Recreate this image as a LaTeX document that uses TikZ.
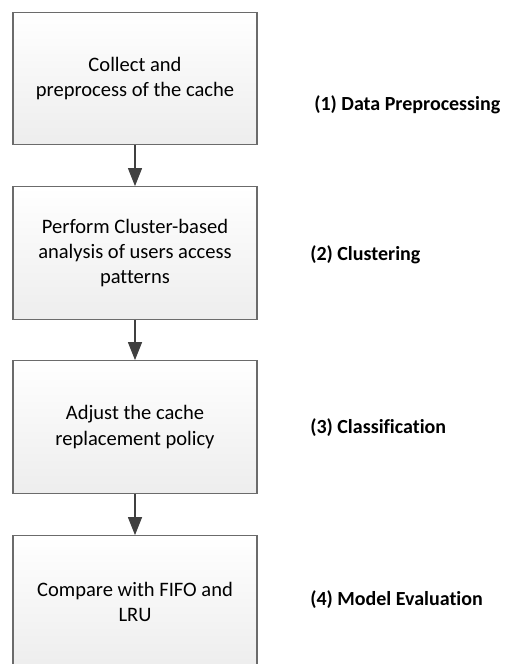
\documentclass[tikz,border=0pt]{standalone}
\usepackage{fontspec}
\setmainfont{Carlito}[Ligatures=CommonOff]
\usetikzlibrary{arrows.meta}
\begin{document}
\begin{tikzpicture}[x=0.75pt,y=-0.75pt,
    stepbox/.style={draw=black!58,line width=0.8pt,top color=white,bottom color=black!7,
      minimum width=183pt,minimum height=99.5pt,align=center,
      font=\fontsize{15.4}{19}\selectfont,inner sep=0pt},
    phase/.style={anchor=west,font=\fontsize{15}{18}\selectfont\bfseries,inner sep=0pt},
    flow/.style={draw=black!75,line width=0.8pt,-{Triangle[length=13.5pt,width=10.5pt]}}]
      \clip (0,0) rectangle (508,664);
      \fill[white] (0,0) rectangle (508,664);
      \draw
        (135,78.5) node[stepbox] (s1){Collect and\\preprocess of the cache}
        (135,253) node[stepbox] (s2){Perform Cluster-based\\analysis of users access\\patterns}
        (135,427) node[stepbox] (s3){Adjust the cache\\replacement policy}
        (135,602) node[stepbox] (s4){Compare with FIFO and\\LRU};
      \draw
        (314,105) node[phase] (p1){(1) Data Preprocessing}
        (310,255) node[phase] (p2){(2) Clustering}
        (310,428) node[phase] (p3){(3) Classification}
        (310,600) node[phase] (p4){(4) Model Evaluation};
      \begin{scope}[flow]
        \draw (s1) to (s2);
        \draw (s2) to (s3);
        \draw (s3) to (s4);
      \end{scope}
    \end{tikzpicture}
\end{document}
